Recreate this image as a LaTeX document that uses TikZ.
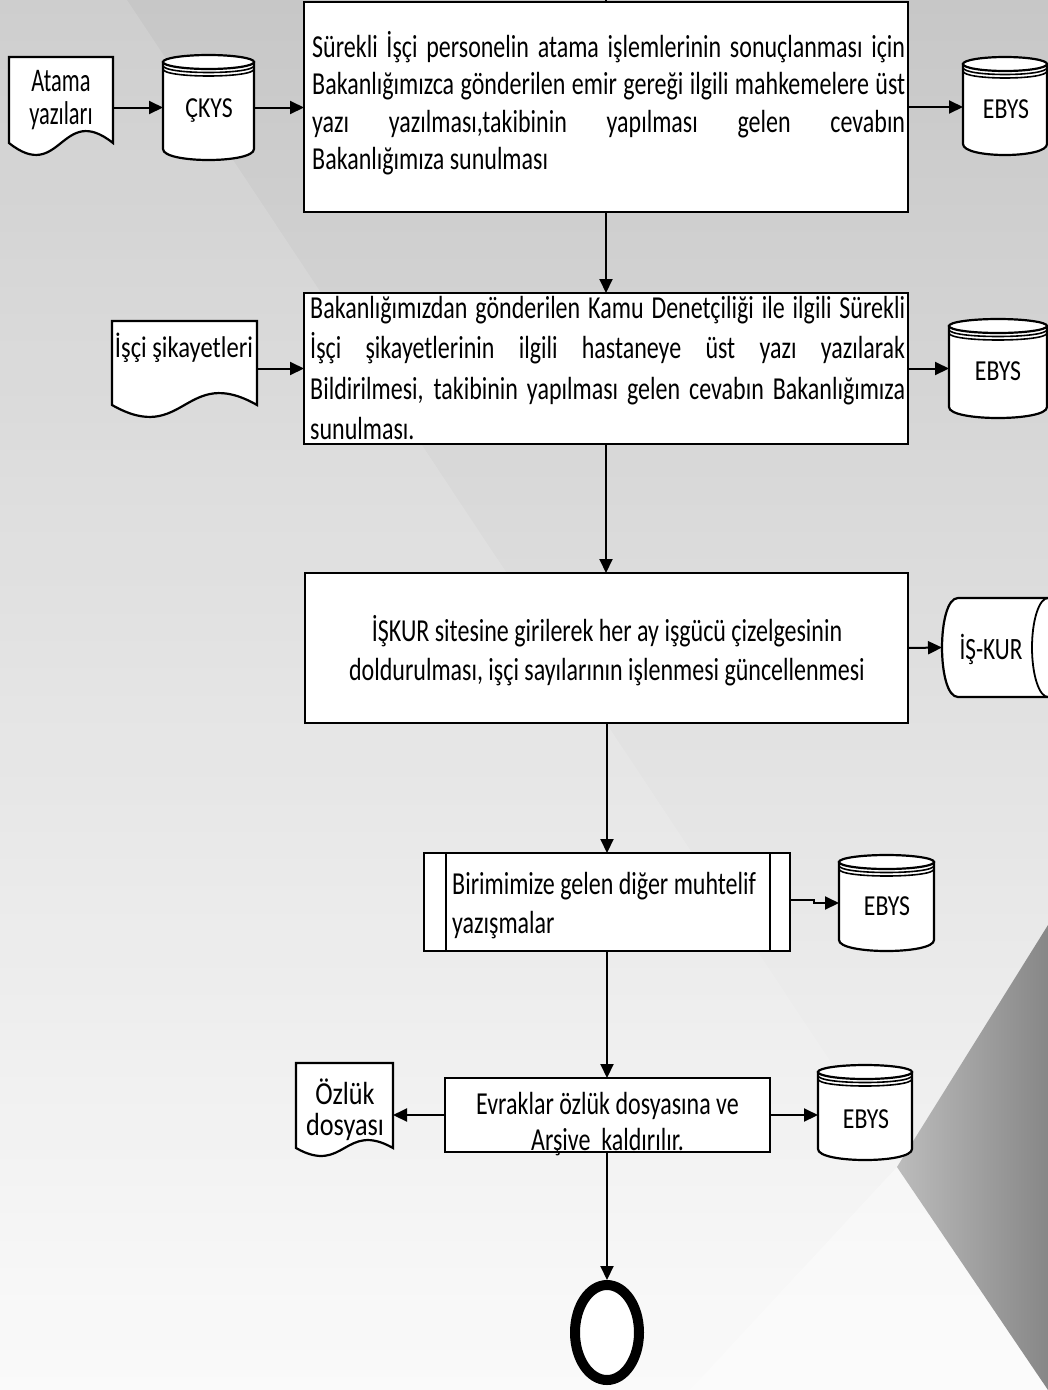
\documentclass[tikz,border=0pt]{standalone}
\usepackage{fontspec}
\setmainfont{Carlito}[FakeStretch=0.75]
\newfontfamily\narrowface{Carlito}[FakeStretch=0.68]
\newfontfamily\wideface{Carlito}[FakeStretch=0.82]
\usetikzlibrary{arrows.meta,shapes.geometric}

\definecolor{bgtop}{RGB}{199,199,199}
\definecolor{bgbot}{RGB}{250,250,250}
\definecolor{wedgel}{RGB}{188,188,188}
\definecolor{wedger}{RGB}{135,135,135}

\tikzset{
  outline/.style={draw=black, line width=2.2pt, fill=white},
  rim/.style={draw=black, line width=1.6pt},
  flow/.style={draw=black, line width=2pt, -{Triangle[length=14pt,width=13pt]}},
  plainline/.style={draw=black, line width=2pt},
  frame/.style={rectangle, inner sep=0pt, outer sep=0pt},
  lbl/.style={inner sep=0pt, font=\wideface\fontsize{29}{34}\selectfont},
  blk/.style={inner sep=0pt},
}

% database cylinder: name, left, top, right, bottom, label x, label baseline, label
\newcommand\dbstore[8]{%
  \pgfmathsetmacro\dbCx{(#2+#4)/2}%
  \pgfmathsetmacro\dbRx{(#4-#2)/2}%
  \pgfmathsetmacro\dbTy{#3+7}%
  \pgfmathsetmacro\dbBs{#5-11}%
  \pgfmathsetmacro\dbBc{#5-11+44/3}%
  \pgfmathsetmacro\dbRa{\dbTy+3.5}%
  \pgfmathsetmacro\dbRac{\dbRa+28/3}%
  \pgfmathsetmacro\dbRb{\dbTy+7}%
  \pgfmathsetmacro\dbRbc{\dbRb+28/3}%
  \pgfmathsetmacro\dbCy{(#3+#5)/2}%
  \pgfmathsetmacro\dbW{#4-#2}%
  \pgfmathsetmacro\dbH{#5-#3}%
  \path[outline] (#2,\dbTy) -- (#2,\dbBs) .. controls (#2,\dbBc) and (#4,\dbBc) .. (#4,\dbBs) -- (#4,\dbTy) -- cycle;
  \path[outline] (\dbCx,\dbTy) ellipse [x radius=\dbRx pt, y radius=7pt];
  \draw[rim] (#2,\dbRa) .. controls (#2,\dbRac) and (#4,\dbRac) .. (#4,\dbRa);
  \draw[rim] (#2,\dbRb) .. controls (#2,\dbRbc) and (#4,\dbRbc) .. (#4,\dbRb);
  \node[frame, minimum width=\dbW pt, minimum height=\dbH pt] (#1) at (\dbCx,\dbCy) {};
  \node[lbl, anchor=base] (#1-t) at (#6,#7) {#8};
}

% document sheet with wavy lower edge: name, left, top, right, side bottom, wave amplitude
\newcommand\docsheet[6]{%
  \pgfmathsetmacro\dsM{(#2+#4)/2}%
  \pgfmathsetmacro\dsUp{#5-#6/0.29}%
  \pgfmathsetmacro\dsDn{#5+#6/0.29}%
  \pgfmathsetmacro\dsCy{(#3+#5)/2}%
  \pgfmathsetmacro\dsW{#4-#2}%
  \pgfmathsetmacro\dsH{#5-#3}%
  \path[outline] (#2,#3) -- (#4,#3) -- (#4,#5) .. controls (\dsM,\dsUp) and (\dsM,\dsDn) .. (#2,#5) -- cycle;
  \node[frame, minimum width=\dsW pt, minimum height=\dsH pt] (#1) at (\dsM,\dsCy) {};
}

\begin{document}
\begin{tikzpicture}[x=1pt,y=-1pt]
\useasboundingbox (0,0) rectangle (1048,1390);
\clip (0,0) rectangle (1048,1390);

% backdrop
\shade[top color=bgtop, bottom color=bgbot] (0,0) rectangle (1048,1390);
\fill[white, opacity=0.14] (0,0) -- (127,0) -- (1048,1390) -- (0,1390) -- cycle;
\fill[white, opacity=0.35] (897,1167) -- (1048,1390) -- (690,1390) -- cycle;
\shade[left color=wedgel, right color=wedger] (1048,925) -- (897,1167) -- (1048,1390) -- cycle;

% process boxes
\node[frame, outline, minimum width=604pt, minimum height=210pt] (b1) at (606,107) {};
\node[blk, anchor=base west] (b1-t) at (312,57) {\parbox[t]{593pt}{\fontsize{32}{37.5}\selectfont
\makebox[\linewidth][s]{Sürekli İşçi personelin atama işlemlerinin sonuçlanması için}\\
\makebox[\linewidth][s]{Bakanlığımızca gönderilen emir gereği ilgili mahkemelere üst}\\
\makebox[\linewidth][s]{yazı yazılması,takibinin yapılması gelen cevabın}\\
Bakanlığımıza sunulması}};

\node[frame, outline, minimum width=604pt, minimum height=151pt] (b2) at (606,368.5) {};
\node[blk, anchor=base west] (b2-t) at (310,318) {\parbox[t]{595pt}{\fontsize{32}{40.5}\selectfont
\makebox[\linewidth][s]{Bakanlığımızdan gönderilen Kamu Denetçiliği ile ilgili Sürekli}\\
\makebox[\linewidth][s]{İşçi şikayetlerinin ilgili hastaneye üst yazı yazılarak}\\
\makebox[\linewidth][s]{Bildirilmesi, takibinin yapılması gelen cevabın Bakanlığımıza}\\
sunulması.}};

\node[frame, outline, minimum width=603pt, minimum height=150pt] (b3) at (606.5,648) {};
\node[blk, anchor=base] (b3-t) at (607,641) {\parbox[t]{580pt}{\centering\fontsize{32}{39}\selectfont
İŞKUR sitesine girilerek her ay işgücü çizelgesinin\\
doldurulması, işçi sayılarının işlenmesi güncellenmesi}};

\node[frame, outline, minimum width=366pt, minimum height=98pt] (birim) at (607,902) {};
\draw[outline] ([xshift=22pt]birim.north west) -- ([xshift=22pt]birim.south west);
\draw[outline] ([xshift=-20pt]birim.north east) -- ([xshift=-20pt]birim.south east);
\node[blk, anchor=base west] (birim-t) at (452,894) {\parbox[t]{320pt}{\fontsize{32}{39}\selectfont
Birimimize gelen diğer muhtelif\\
yazışmalar}};

\node[frame, outline, minimum width=325pt, minimum height=74pt] (ev) at (607.5,1115) {};
\node[blk, anchor=base] (ev-t) at (607.5,1114) {\parbox[t]{320pt}{\centering\fontsize{32}{36}\selectfont
Evraklar özlük dosyasına ve\\
Arşive\ \ kaldırılır.}};

% documents
\docsheet{atama}{9}{57}{113}{143}{12}
\node[blk, anchor=base] (atama-t) at (61,91) {\parbox[t]{100pt}{\centering\narrowface\fontsize{33}{33}\selectfont Atama\\yazıları}};
\docsheet{isci}{112}{321}{257}{405}{12}
\node[blk, anchor=base] (isci-t) at (184,357) {\wideface\fontsize{30}{34}\selectfont İşçi şikayetleri};
\docsheet{ozluk}{296}{1063}{393}{1148}{8}
\node[blk, anchor=base] (ozluk-t) at (345,1104) {\parbox[t]{95pt}{\centering\wideface\fontsize{32}{31}\selectfont Özlük\\dosyası}};

% storage cylinders
\dbstore{ckys}{163}{55}{254}{160}{209}{117}{ÇKYS}
\dbstore{e1}{963}{57}{1047}{155}{1006}{118}{EBYS}
\dbstore{e2}{949}{319}{1047}{418}{998}{380}{EBYS}
\dbstore{e3}{839}{855}{934}{951}{887}{915}{EBYS}
\dbstore{e4}{818}{1065}{912}{1160}{866}{1128}{EBYS}

% drum storage on the right edge
\path[outline] (958,598) -- (1070,598) -- (1070,697) -- (958,697) .. controls (936.7,697) and (936.7,598) .. (958,598) -- cycle;
\draw[rim, line width=1.8pt] (1048,647.5) ellipse [x radius=16pt, y radius=49.5pt];
\node[frame, minimum width=106pt, minimum height=99pt] (iskur) at (995,647.5) {};
\node[blk, anchor=base] (iskur-t) at (991,659) {\fontsize{31}{34}\selectfont İŞ-KUR};

% terminator
\node[ellipse, draw=black, fill=white, line width=10pt, inner sep=0pt, minimum width=64pt, minimum height=95pt] (end) at (607,1332.5) {};

% connectors
\coordinate (entry) at (606,0);
\draw[plainline] (entry) -- (b1.north);
\draw[flow] (ckys.west -| atama.east) -- (ckys.west);
\draw[flow] (ckys.east) -- (ckys.east -| b1.west);
\draw[flow] (b1.east) -- (b1.east -| e1.west);
\draw[flow] (b1.south) -- (b2.north);
\draw[flow] (b2.west -| isci.east) -- (b2.west);
\draw[flow] (b2.east) -- (b2.east -| e2.west);
\draw[flow] (b2.south) -- (b2.south |- b3.north);
\draw[flow] (b3.east) -- (iskur.west);
\draw[flow] (b3.south -| birim.north) -- (birim.north);
\draw[flow] ([yshift=2pt]birim.east) -- ++(24,0) |- (e3.west);
\draw[flow] (birim.south) -- (birim.south |- ev.north);
\draw[flow] (ev.west) -- (ev.west -| ozluk.east);
\draw[flow] (ev.east) -- (ev.east -| e4.west);
\draw[flow] (ev.south -| end.north) -- (end.north);
\end{tikzpicture}
\end{document}
